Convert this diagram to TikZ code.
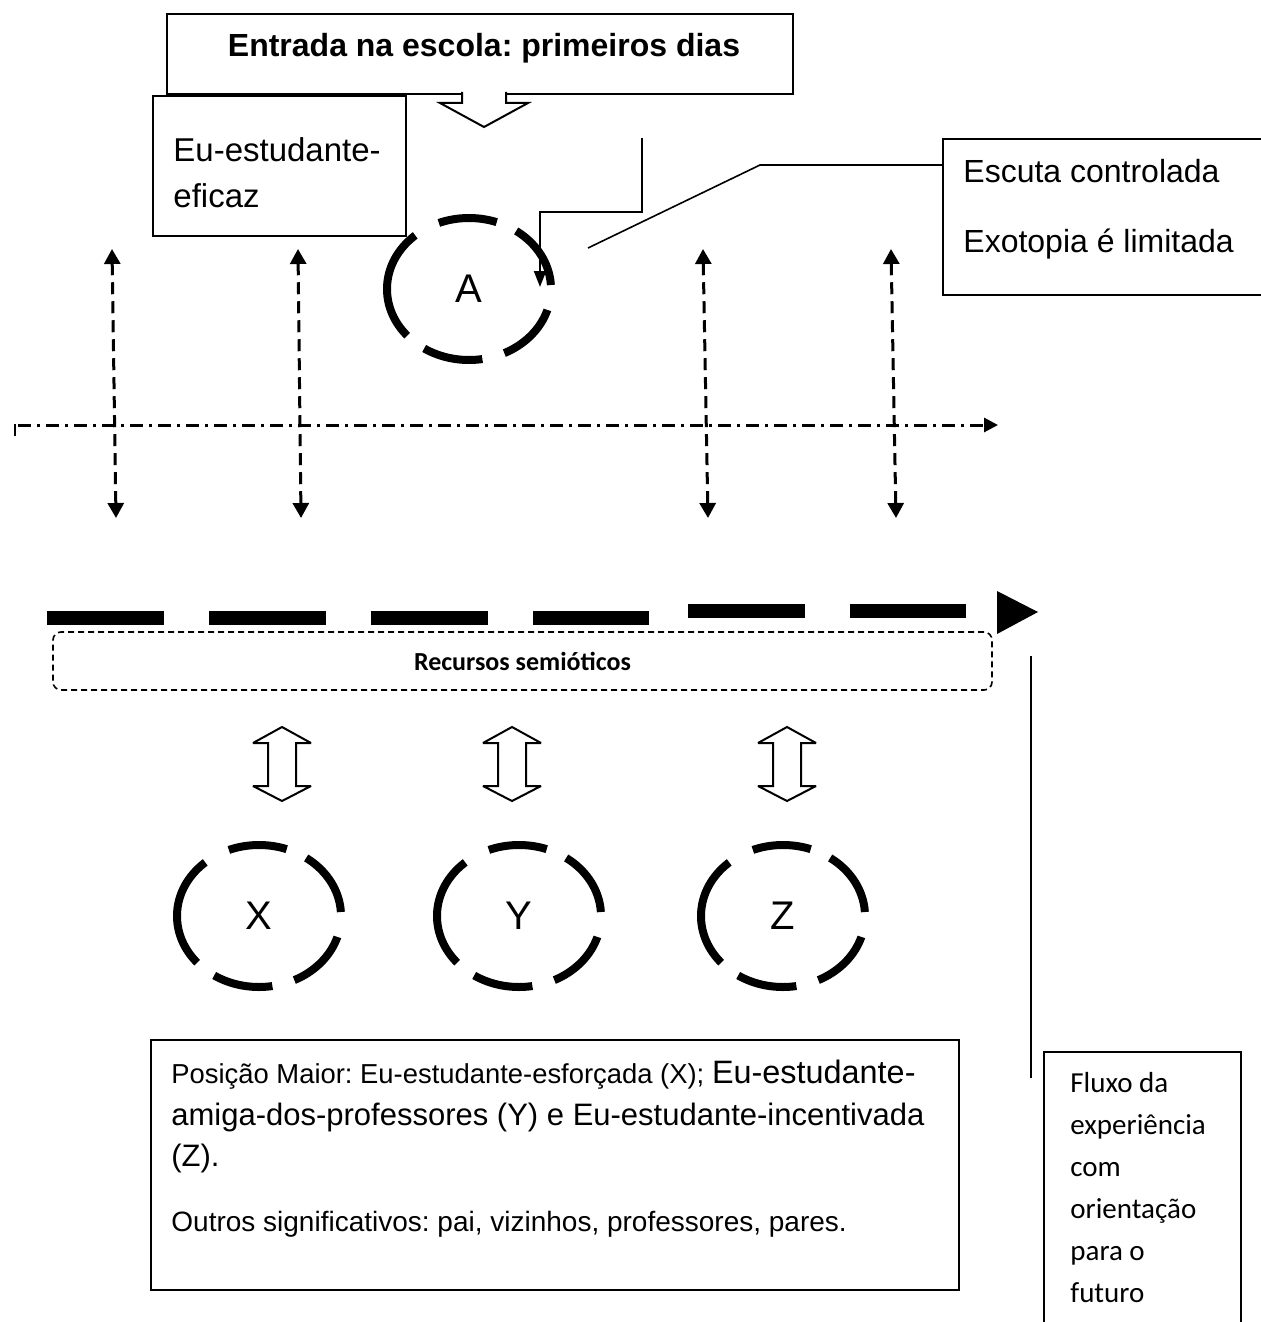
\documentclass[tikz,border=0pt]{standalone}
\usepackage{fontspec}
\setmainfont{Liberation Sans}
\newfontfamily\calfont{Carlito}
\usetikzlibrary{arrows.meta,shapes.geometric}
\frenchspacing
\begin{document}
\begin{tikzpicture}[x=0.5pt,y=-0.5pt,
  frame/.style={draw,line width=1pt,inner sep=0pt},
  txt/.style={inner sep=0pt,anchor=base west},
  ring/.style={ellipse,draw,line width=4pt,inner sep=0pt,minimum width=82pt,minimum height=71pt,
    font=\fontsize{20}{24}\selectfont,
    dash pattern=on 33.4pt off 10.7pt on 29.4pt off 13.4pt on 57.5pt off 10.7pt on 30.1pt off 11.4pt on 31.4pt off 12.7pt,
    dash phase=238.7pt},
  vdash/.style={line width=1.5pt,dash pattern=on 6pt off 3.5pt,
    {Triangle[width=8pt,length=7.5pt]}-{Triangle[width=8pt,length=7.5pt]}},
  heavy/.style={line width=7pt,dash pattern=on 58.5pt off 22.5pt},
  dblarr/.pic={\draw[line width=1pt,fill=white,miter limit=4]
     (0,-37) -- (29,-21) -- (14,-21) -- (14,22) -- (29,22) -- (0,37) -- (-29,22)
     -- (-14,22) -- (-14,-21) -- (-29,-21) -- cycle;}
]
\useasboundingbox (0,0) rectangle (1261,1322);
\clip (0,0) rectangle (1261,1322);

% title box with block arrow
\node[frame,minimum width=313pt,minimum height=40pt] (tbox) at (480,54) {};
\node[inner sep=0pt,anchor=base,font=\bfseries\fontsize{16}{19}\selectfont] (ttext) at (484,57) {Entrada na escola: primeiros dias};
\draw[line width=1pt,fill=white] (462,92) -- (462,103) -- (440,103) -- (484,127) -- (528,103) -- (506,103) -- (506,92);

% Eu-estudante-eficaz
\node[frame,minimum width=126.5pt,minimum height=70pt] (eubox) at (279.5,166) {};
\node[txt,font=\fontsize{16.5}{20}\selectfont] (eu1) at (173,162) {Eu-estudante-};
\node[txt,font=\fontsize{16.5}{20}\selectfont] (eu2) at (173,207) {eficaz};

% Escuta box
\node[frame,minimum width=168.5pt,minimum height=78pt] (esc) at (1111.5,217) {};
\node[txt,font=\fontsize{16}{19}\selectfont] (es1) at (963,182) {Escuta controlada};
\node[txt,font=\fontsize{16}{19}\selectfont] (es2) at (963,252) {Exotopia é limitada};

% circle A
\node[ring] (A) at (469,289) {A};

% elbow arrow
\coordinate (e0) at (642,138);
\coordinate (e1) at (642,212);
\coordinate (e2) at (540,212);
\coordinate (e3) at (540,287);
\draw[line width=1pt,-{Triangle[width=6pt,length=8pt]}] (e0) -- (e1) -- (e2) -- (e3);

% slanted connector to Escuta box
\coordinate (s0) at (588,248);
\coordinate (s1) at (760,165);
\draw[line width=0.8pt] (s0) -- (s1) -- (s1 -| esc.west);

% vertical dashed double arrows
\coordinate (v1t) at (112,249); \coordinate (v1b) at (116,518);
\coordinate (v2t) at (298,249); \coordinate (v2b) at (301,518);
\coordinate (v3t) at (703,249); \coordinate (v3b) at (708,518);
\coordinate (v4t) at (891,249); \coordinate (v4b) at (896,518);
\draw[vdash] (v1t) -- (v1b);
\draw[vdash] (v2t) -- (v2b);
\draw[vdash] (v3t) -- (v3b);
\draw[vdash] (v4t) -- (v4b);

% dash-dot axis
\coordinate (h0) at (18,425);
\coordinate (h1) at (998,425);
\draw[line width=1.2pt] (15,424) -- (15,436);
\draw[line width=1.5pt,dash pattern=on 6.5pt off 3pt on 1.5pt off 3pt,-{Triangle[width=7pt,length=7pt]}] (h0) -- (h1);

% heavy dashed arrow
\coordinate (t0) at (47,618); \coordinate (t1) at (649,618);
\coordinate (t2) at (688,611); \coordinate (t3) at (966,611);
\draw[heavy] (t0) -- (t1);
\draw[heavy] (t2) -- (t3);
\fill (997,591) -- (1038,612) -- (997,634) -- cycle;

% Recursos semioticos
\node[draw,rounded corners=4pt,dash pattern=on 3pt off 2pt,line width=0.8pt,inner sep=0pt,
  minimum width=469.5pt,minimum height=29pt,font=\calfont\bfseries\fontsize{13}{15}\selectfont]
  (rec) at (522.5,661) {Recursos semióticos};

% double block arrows
\pic (d1) at (282,764) {dblarr};
\pic (d2) at (512,764) {dblarr};
\pic (d3) at (787,764) {dblarr};

% circles X Y Z
\node[ring] (X) at (259,916) {X};
\node[ring] (Y) at (519,916) {Y};
\node[ring] (Z) at (783,916) {Z};

% bottom box
\node[frame,minimum width=404pt,minimum height=125pt] (bbox) at (555,1165) {};
\node[txt] (b1) at (171,1083) {\fontsize{13.7}{16}\selectfont Posição Maior: Eu-estudante-esforçada (X); \fontsize{16.2}{19}\selectfont Eu-estudante-};
\node[txt,font=\fontsize{15.5}{18}\selectfont] (b2) at (171,1125) {amiga-dos-professores (Y) e Eu-estudante-incentivada};
\node[txt,font=\fontsize{15.5}{18}\selectfont] (b3) at (171,1166) {(Z).};
\node[txt,font=\fontsize{14}{17}\selectfont] (b4) at (171,1231) {Outros significativos: pai, vizinhos, professores, pares.};

% vertical line
\coordinate (L0) at (1031,656);
\coordinate (L1) at (1031,1078);
\draw[line width=1pt] (L0) -- (L1);

% Fluxo box
\node[frame,minimum width=98.5pt,minimum height=144pt] (fbox) at (1142.5,1196) {};
\node[txt,font=\calfont\fontsize{14.5}{17}\selectfont] (f1) at (1070,1092) {Fluxo da};
\node[txt,font=\calfont\fontsize{14.5}{17}\selectfont] (f2) at (1070,1134) {experiência};
\node[txt,font=\calfont\fontsize{14.5}{17}\selectfont] (f3) at (1070,1176) {com};
\node[txt,font=\calfont\fontsize{14.5}{17}\selectfont] (f4) at (1070,1218) {orientação};
\node[txt,font=\calfont\fontsize{14.5}{17}\selectfont] (f5) at (1070,1260) {para o};
\node[txt,font=\calfont\fontsize{14.5}{17}\selectfont] (f6) at (1070,1302) {futuro};
\end{tikzpicture}
\end{document}
